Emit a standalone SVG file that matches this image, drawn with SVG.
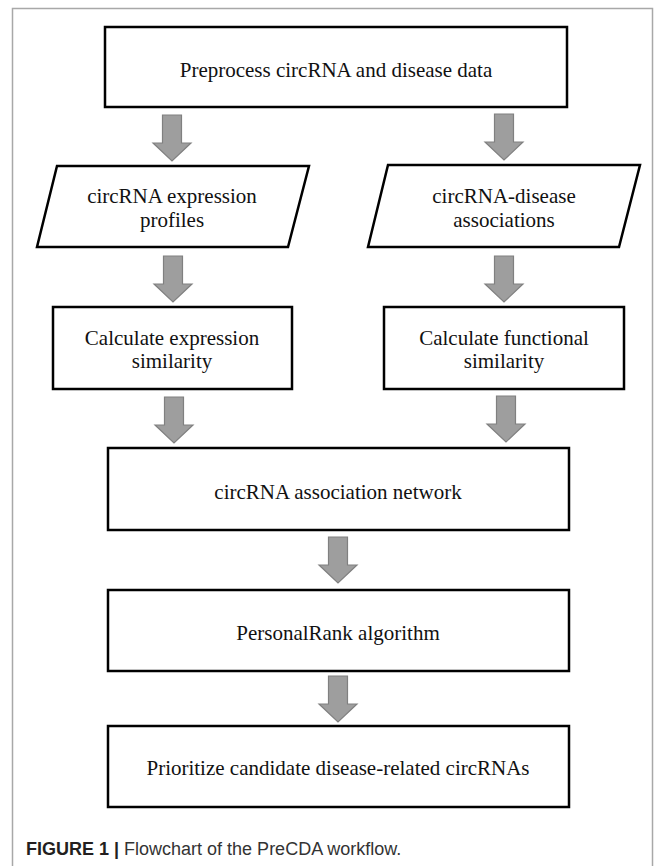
<svg xmlns="http://www.w3.org/2000/svg" width="663" height="866" viewBox="0 0 663 866">
<style>
.box{fill:#fff;stroke:#000;stroke-width:2.5}
.t{font-family:"Liberation Serif","Times New Roman",serif;font-size:21px;fill:#111;text-anchor:middle}
.arr{fill:#9e9e9e;stroke:#808080;stroke-width:1.2}
.cap{font-family:"Liberation Sans",Arial,sans-serif;font-size:18px;fill:#333}
</style>
<defs>
<path id="arrow" d="M-9.5,0 H9.5 V28 H19 L0,46 L-19,28 H-9.5 Z"/>
</defs>
<rect x="0" y="0" width="663" height="866" fill="#fff"/>
<rect x="12.5" y="8.5" width="640" height="880" fill="none" stroke="#a8a8a8" stroke-width="1.5"/>

<g id="connectors">
<use href="#arrow" class="arr" x="172" y="115"/>
<use href="#arrow" class="arr" x="504" y="114"/>
<use href="#arrow" class="arr" x="173" y="256"/>
<use href="#arrow" class="arr" x="504" y="256"/>
<use href="#arrow" class="arr" x="174" y="397"/>
<use href="#arrow" class="arr" x="506" y="396"/>
<use href="#arrow" class="arr" x="338" y="537"/>
<use href="#arrow" class="arr" x="338" y="676"/>
</g>

<g id="preprocess">
<rect class="box" x="105" y="27" width="462" height="80"/>
<text class="t" x="336" y="77">Preprocess circRNA and disease data</text>
</g>

<g id="expression-profiles">
<polygon class="box" points="57,166 309,166 288,247 37,247"/>
<text class="t" x="172" y="203">circRNA expression</text>
<text class="t" x="172" y="227">profiles</text>
</g>

<g id="disease-associations">
<polygon class="box" points="388,165 640,165 619,247 368,247"/>
<text class="t" x="504" y="203">circRNA-disease</text>
<text class="t" x="504" y="227">associations</text>
</g>

<g id="expression-similarity">
<rect class="box" x="53" y="307" width="239" height="82"/>
<text class="t" x="172" y="345">Calculate expression</text>
<text class="t" x="172" y="368">similarity</text>
</g>

<g id="functional-similarity">
<rect class="box" x="384" y="307" width="240" height="82"/>
<text class="t" x="504" y="345">Calculate functional</text>
<text class="t" x="504" y="368">similarity</text>
</g>

<g id="association-network">
<rect class="box" x="108" y="448" width="461" height="82"/>
<text class="t" x="338" y="499">circRNA association network</text>
</g>

<g id="personalrank">
<rect class="box" x="108" y="590" width="461" height="81"/>
<text class="t" x="338" y="640">PersonalRank algorithm</text>
</g>

<g id="prioritize">
<rect class="box" x="108" y="726" width="461" height="81"/>
<text class="t" x="338" y="775">Prioritize candidate disease-related circRNAs</text>
</g>

<text class="cap" x="26" y="855"><tspan font-weight="bold" fill="#231f20">FIGURE 1 |</tspan> Flowchart of the PreCDA workflow.</text>
</svg>
